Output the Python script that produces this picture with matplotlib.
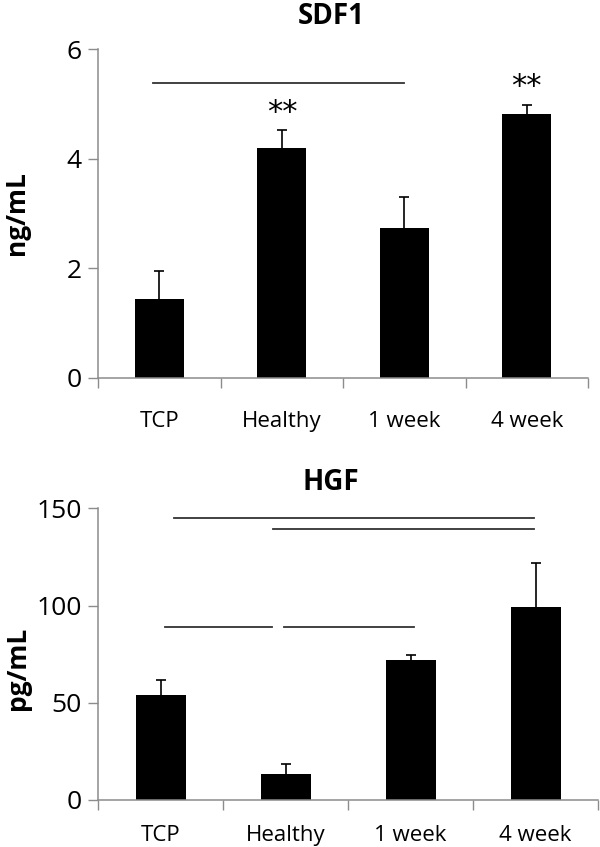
import matplotlib
matplotlib.use("Agg")
import matplotlib.pyplot as plt
import numpy as np

categories = ["TCP", "Healthy", "1 week", "4 week"]

sdf1_mean = [1.44, 4.19, 2.74, 4.82]
sdf1_err = [0.51, 0.34, 0.56, 0.16]
sdf1_lines = [(-0.05, 2.0, 5.38)]
sdf1_stars = {1: 4.85, 3: 5.31}

hgf_mean = [54.1, 13.6, 72.2, 99.1]
hgf_err = [7.4, 5.0, 2.2, 22.7]
hgf_lines = [(0.11, 2.99, 144.8), (0.9, 2.99, 139.2),
             (0.03, 0.89, 88.8), (0.99, 2.03, 88.8)]

plt.rcParams['font.family'] = ['Open Sans', 'DejaVu Sans']

fig = plt.figure(figsize=(6, 8.47), dpi=100)
ax1 = fig.add_axes([0.1638, 0.554, 0.8162, 0.3881])
ax2 = fig.add_axes([0.1638, 0.0555, 0.833, 0.3444])

spine_col = "#8c8c8c"


def draw(ax, means, errs, lines, ymax, yticks, ylabel, title, title_y, xpad):
    x = np.arange(len(categories))
    ax.bar(x, means, width=0.4, color="black", zorder=2)
    # symmetric bars drawn behind the columns, so only the upper half shows
    ax.errorbar(x, means, yerr=errs, fmt="none",
                ecolor="black", elinewidth=1.2, capsize=3.5, capthick=1.2,
                zorder=1)
    for x0, x1, y in lines:
        ax.plot([x0, x1], [y, y], color="#333333", lw=1.3, zorder=1)
    ax.set_xlim(-0.5, len(categories) - 0.5)
    ax.set_ylim(0, ymax)
    ax.set_yticks(yticks)
    ax.tick_params(axis="y", labelsize=19, length=7, width=1,
                   color=spine_col, direction="out", pad=5)
    ax.set_xticks(x)
    ax.set_xticklabels(categories, fontsize=16)
    ax.tick_params(axis="x", which="major", length=0, pad=xpad)
    ax.set_xticks(np.arange(-0.5, len(categories)), minor=True)
    ax.tick_params(axis="x", which="minor", length=7, width=1,
                   color=spine_col, direction="out")
    for s in ["top", "right"]:
        ax.spines[s].set_visible(False)
    for s in ["left", "bottom"]:
        ax.spines[s].set_color(spine_col)
        ax.spines[s].set_linewidth(1.1)
    ax.set_ylabel(ylabel, fontsize=19, fontweight="bold")
    fig.text(0.552, title_y, title, fontsize=20, fontweight="bold",
             ha="center", va="center")


draw(ax1, sdf1_mean, sdf1_err, sdf1_lines, 6, [0, 2, 4, 6], "ng/mL",
     "SDF1", 1 - 16 / 847, 24)
for i, y in sdf1_stars.items():
    ax1.text(i, y, "**", fontsize=22, ha="center", va="center",
             family=["DejaVu Sans"])

draw(ax2, hgf_mean, hgf_err, hgf_lines, 150, [0, 50, 100, 150], "pg/mL",
     "HGF", 1 - 482 / 847, 18)

ax1.yaxis.set_label_coords(-0.14, 0.5)
ax2.yaxis.set_label_coords(-0.135, 0.45)

fig.savefig("out.png", dpi=100)
